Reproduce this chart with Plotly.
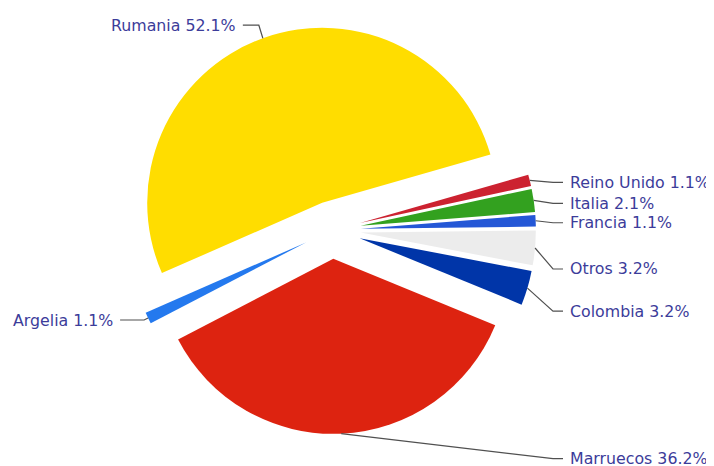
import math
import plotly.graph_objects as go

# ---- data ----
labels = ["Reino Unido", "Italia", "Francia", "Otros", "Colombia", "Marruecos", "Argelia", "Rumania"]
values = [1, 2, 1, 3, 3, 34, 1, 49]
colors = ["#CC2230", "#33A11F", "#2457D6", "#ECECEC", "#0035A8", "#DD2310", "#2479EE", "#FFDD00"]

# ---- layout / style ----
W, H = 714, 466
OFF = 8.0                  # page body margin (px)
CX, CY = 332.0, 230.0      # pie centre (px, window coords)
R = 175.0                  # radius (px)
PULL = 0.165
ROTATION = 74.0
label_dy = [2, 3, 2, 21, 23, 25, 2, -13]   # vertical shift of each label from its anchor (px)
left_len = [0, 0, 0, 0, 0, 0, 28, 20]      # leader length for left-hand labels (px)
RIGHT_END = 563.0
TEXT_COLOR = "#3C3C9A"
LINE_COLOR = "#505050"

total = sum(values)
half = R * (1 + PULL)

def px(x):
    return (x - OFF) / W

def py(y):
    return 1 - (y - OFF) / H

fig = go.Figure(go.Pie(
    labels=labels,
    values=values,
    sort=False,
    direction="clockwise",
    rotation=ROTATION,
    pull=[PULL] * len(values),
    marker=dict(colors=colors, line=dict(width=0)),
    textinfo="none",
    hoverinfo="skip",
    showlegend=False,
    domain=dict(x=[px(CX - half), px(CX + half)], y=[py(CY + half), py(CY - half)]),
))

shapes = []
annotations = []
cum = 0
for lab, v, dy, ll in zip(labels, values, label_dy, left_len):
    a0 = ROTATION + cum / total * 360
    a1 = a0 + v / total * 360
    cum += v
    mid = math.radians((a0 + a1) / 2)
    ax = CX + half * math.sin(mid)
    ay = CY - half * math.cos(mid)
    ly = ay + dy
    text = f"{lab} {100 * v / total:.1f}%"
    if math.sin(mid) >= 0:
        ex = max(ax + 4, RIGHT_END - 10)
        path = f"M {px(ax)} {py(ay)} L {px(ex)} {py(ly)} L {px(RIGHT_END)} {py(ly)}"
        annotations.append(dict(x=px(RIGHT_END + 5), y=py(ly), xref="paper", yref="paper",
                                text=text, showarrow=False, xanchor="left", yanchor="middle"))
    else:
        ex = ax - 4
        end = ax - ll
        path = f"M {px(ax)} {py(ay)} L {px(ex)} {py(ly)} L {px(end)} {py(ly)}"
        annotations.append(dict(x=px(end - 5), y=py(ly), xref="paper", yref="paper",
                                text=text, showarrow=False, xanchor="right", yanchor="middle"))
    shapes.append(dict(type="path", path=path, xref="paper", yref="paper",
                       line=dict(color=LINE_COLOR, width=1.2)))

fig.update_layout(
    width=W, height=H,
    margin=dict(l=0, r=0, t=0, b=0),
    paper_bgcolor="white",
    plot_bgcolor="white",
    font=dict(family="DejaVu Sans", size=15.8, color=TEXT_COLOR),
    shapes=shapes,
    annotations=annotations,
)

fig.write_html("out.html", config={"displayModeBar": False})
